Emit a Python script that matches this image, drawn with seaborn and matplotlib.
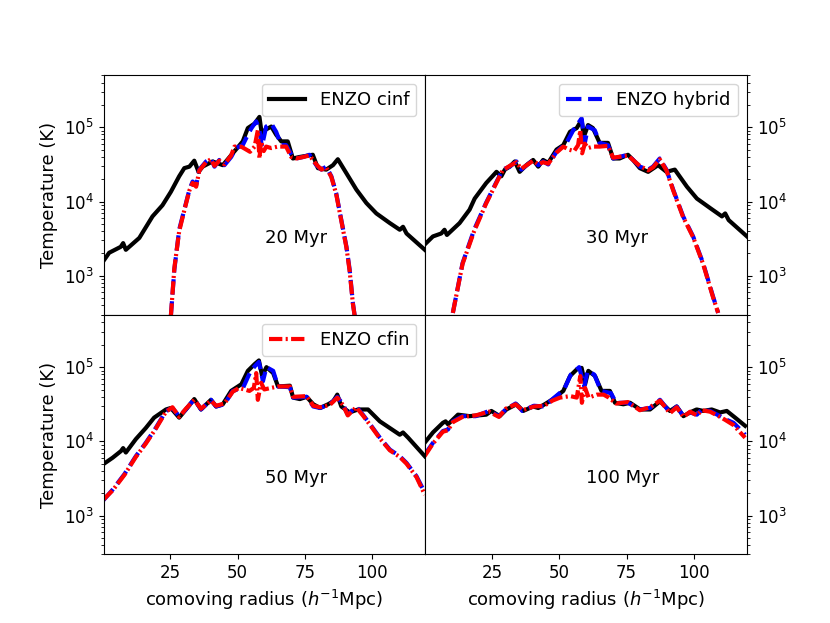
import numpy as np
import pandas as pd
import seaborn as sns
import matplotlib.pyplot as plt

# Values, stored as log10(T / K)

# 20 Myr
x_cinf_20 = [0, 2.3, 6.6, 7.5, 8.5, 13.5, 18.4, 22.1, 25.2, 28.3, 30.2, 32.1, 33.9, 35.5, 37.0, 40.7,
             44.5, 48.2, 51.9, 53.8, 56.3, 58.1, 59.0, 60.0, 62.5, 64.3, 66.2, 68.6, 70.5, 73.0, 77.9,
             79.8, 82.9, 85.4, 87.2, 90.4, 94.1, 97.8, 101.5, 106.5, 110.2, 111.4, 112.7, 119.5]
logT_cinf_20 = [3.19, 3.31, 3.39, 3.44, 3.35, 3.51, 3.80, 3.95, 4.13, 4.34, 4.45, 4.47, 4.55, 4.40, 4.47, 4.54,
                4.49, 4.65, 4.81, 4.99, 5.05, 5.14, 4.90, 4.96, 5.01, 4.90, 4.81, 4.81, 4.58, 4.60, 4.63,
                4.45, 4.43, 4.49, 4.57, 4.38, 4.16, 3.98, 3.84, 3.71, 3.62, 3.66, 3.57, 3.35]
x_hyb_20 = [25.2, 26.5, 28.3, 30.2, 32.1, 33.3, 34.6, 35.8, 38.3, 40.1, 41.4, 43.2, 45.1, 47.6, 49.4, 51.9,
            53.8, 55.0, 56.9, 58.1, 59.0, 60.6, 62.5, 64.3, 66.2, 68.0, 70.0, 71.8, 74.3, 76.7, 79.2, 81.1,
            82.9, 84.8, 86.6, 88.5, 90.4, 91.6, 92.8, 93.5]
logT_hyb_20 = [2.45, 3.08, 3.62, 3.89, 4.16, 4.27, 4.22, 4.43, 4.54, 4.58, 4.47, 4.56, 4.49, 4.60, 4.72, 4.76,
               4.90, 4.98, 5.08, 4.96, 4.74, 5.01, 5.05, 4.94, 4.76, 4.76, 4.63, 4.58, 4.60, 4.63, 4.49, 4.43,
               4.47, 4.34, 4.11, 3.75, 3.39, 3.08, 2.63, 2.45]
x_cfin_20 = [25.2, 26.5, 28.3, 30.2, 32.1, 33.3, 34.6, 35.8, 38.3, 40.1, 41.4, 43.2, 45.1, 47.6, 48.8, 51.3,
             53.2, 54.6, 56.3, 56.9, 57.5, 58.1, 58.7, 59.7, 60.6, 62.5, 64.9, 68.0, 69.9, 71.8, 74.3, 76.7,
             79.2, 81.1, 82.9, 84.8, 86.6, 88.5, 90.4, 91.6, 92.8, 93.5]
logT_cfin_20 = [2.45, 3.10, 3.60, 3.88, 4.15, 4.25, 4.20, 4.42, 4.53, 4.57, 4.48, 4.55, 4.50, 4.62, 4.74, 4.74,
                4.70, 4.67, 4.74, 4.85, 4.96, 4.58, 4.81, 4.68, 4.74, 4.72, 4.74, 4.74, 4.60, 4.58, 4.60, 4.62,
                4.50, 4.43, 4.46, 4.33, 4.10, 3.74, 3.38, 3.06, 2.62, 2.45]

# 30 Myr
x_cinf_30 = [0, 3.1, 6.2, 7.4, 8.3, 13.0, 16.7, 18.6, 22.9, 26.7, 28.5, 29.8, 31.6, 33.5, 35.3, 37.8, 40.3,
             42.2, 44.0, 45.9, 49.0, 51.5, 54.0, 56.5, 58.3, 59.1, 60.7, 62.5, 65.0, 68.1, 70.0, 72.4, 75.5,
             77.4, 79.9, 83.0, 86.7, 89.8, 92.9, 97.4, 101.1, 106.1, 110.4, 111.6, 112.9, 119.7]
logT_cinf_30 = [3.42, 3.53, 3.57, 3.62, 3.55, 3.71, 3.89, 4.04, 4.25, 4.40, 4.34, 4.43, 4.47, 4.54, 4.40, 4.49, 4.56,
                4.47, 4.56, 4.52, 4.70, 4.76, 4.94, 4.99, 5.10, 4.87, 5.03, 4.99, 4.79, 4.79, 4.58, 4.58, 4.63,
                4.56, 4.45, 4.40, 4.49, 4.40, 4.43, 4.20, 4.04, 3.91, 3.80, 3.84, 3.75, 3.53]
x_hyb_30 = [10.5, 14.1, 18.4, 22.8, 26.5, 29.0, 31.6, 34.1, 35.9, 40.3, 42.2, 44.0, 45.9, 49.0, 52.7, 55.2,
            58.3, 59.5, 60.7, 63.2, 65.0, 68.1, 70.0, 75.5, 79.9, 83.0, 84.8, 87.3, 89.8, 92.3, 96.0, 99.7,
            103.4, 107.1, 109.0]
logT_hyb_30 = [2.50, 3.17, 3.62, 3.98, 4.25, 4.43, 4.47, 4.54, 4.43, 4.56, 4.49, 4.54, 4.50, 4.67, 4.79, 4.96,
               5.12, 4.79, 5.01, 4.96, 4.79, 4.76, 4.58, 4.63, 4.47, 4.43, 4.47, 4.58, 4.43, 4.16, 3.80, 3.53,
               3.17, 2.72, 2.50]
x_cfin_30 = [10.5, 14.1, 18.4, 22.8, 26.5, 29.0, 31.6, 34.1, 35.9, 40.3, 42.2, 44.0, 45.9, 49.0, 51.5, 53.5,
             55.5, 57.0, 57.8, 58.5, 59.5, 60.7, 62.5, 65.0, 68.1, 70.0, 75.5, 79.9, 83.0, 84.8, 87.3, 89.8,
             92.3, 96.0, 99.7, 103.4, 107.1, 109.0]
logT_cfin_30 = [2.50, 3.16, 3.60, 3.97, 4.24, 4.42, 4.48, 4.53, 4.44, 4.55, 4.50, 4.53, 4.51, 4.66, 4.74, 4.70,
                4.68, 4.76, 4.96, 4.65, 4.78, 4.72, 4.74, 4.74, 4.75, 4.59, 4.62, 4.48, 4.42, 4.46, 4.57, 4.42,
                4.15, 3.79, 3.52, 3.16, 2.71, 2.50]

# 50 Myr
x_cinf_50 = [0, 3.6, 6.7, 7.5, 8.5, 12.2, 15.9, 19.0, 23.4, 25.2, 28.3, 30.8, 33.9, 36.4, 40.1, 42.0, 44.5,
             47.6, 51.4, 53.8, 56.3, 57.9, 59.1, 60.7, 63.2, 65.0, 69.4, 70.6, 73.1, 75.6, 78.1, 80.6, 83.6,
             85.5, 87.0, 88.5, 91.6, 94.7, 98.4, 102.8, 106.5, 110.2, 111.4, 113.3, 119.5]
logT_cinf_50 = [3.69, 3.78, 3.87, 3.91, 3.85, 4.03, 4.18, 4.32, 4.43, 4.45, 4.32, 4.43, 4.57, 4.43, 4.56, 4.47, 4.50,
                4.68, 4.77, 4.95, 5.04, 5.09, 4.88, 5.00, 4.92, 4.74, 4.75, 4.59, 4.57, 4.60, 4.50, 4.45, 4.50,
                4.54, 4.63, 4.47, 4.39, 4.43, 4.43, 4.27, 4.18, 4.09, 4.12, 4.05, 3.80]
x_hyb_50 = [0, 3.6, 8.0, 12.2, 15.9, 19.6, 23.4, 25.8, 28.3, 30.8, 33.9, 36.4, 40.1, 42.0, 45.1, 48.2, 52.0,
            54.5, 56.3, 57.9, 59.4, 60.7, 63.2, 65.0, 69.4, 70.6, 75.6, 78.1, 80.6, 84.2, 87.0, 89.1, 90.9,
            94.0, 96.5, 99.6, 102.8, 106.5, 110.2, 112.7, 116.4, 119.5]
logT_hyb_50 = [3.20, 3.35, 3.56, 3.80, 3.98, 4.18, 4.41, 4.45, 4.34, 4.43, 4.57, 4.43, 4.56, 4.47, 4.50, 4.68, 4.72,
               4.92, 5.01, 5.07, 4.81, 5.00, 4.95, 4.74, 4.73, 4.59, 4.60, 4.47, 4.45, 4.50, 4.60, 4.50, 4.36,
               4.47, 4.36, 4.21, 4.05, 3.89, 3.80, 3.71, 3.53, 3.31]
x_cfin_50 = [0, 3.6, 8.0, 12.2, 15.9, 19.6, 23.4, 25.8, 28.3, 30.8, 33.9, 36.4, 40.1, 42.0, 45.1, 48.2, 50.5,
             52.5, 54.4, 56.0, 56.9, 57.5, 58.7, 59.9, 62.4, 65.0, 69.4, 70.6, 75.6, 78.1, 80.6, 84.2, 87.0,
             89.1, 90.9, 94.0, 96.5, 99.6, 102.8, 106.5, 110.2, 112.7, 116.4, 119.5]
logT_cfin_50 = [3.21, 3.34, 3.55, 3.79, 3.97, 4.17, 4.40, 4.46, 4.33, 4.44, 4.56, 4.44, 4.55, 4.48, 4.51, 4.67, 4.72,
                4.70, 4.68, 4.72, 4.92, 4.56, 4.79, 4.70, 4.72, 4.74, 4.74, 4.60, 4.61, 4.48, 4.46, 4.49, 4.59,
                4.49, 4.35, 4.46, 4.35, 4.20, 4.04, 3.88, 3.79, 3.70, 3.52, 3.28]

# 100 Myr
x_cinf_100 = [0, 3.1, 6.8, 7.8, 8.7, 12.4, 16.7, 22.9, 24.8, 27.9, 30.4, 34.1, 36.6, 40.3, 42.2, 44.6, 47.7,
              51.5, 54.0, 56.5, 58.3, 59.6, 60.8, 63.3, 65.7, 68.8, 70.7, 73.8, 76.3, 80.0, 83.7, 87.4, 91.1,
              93.6, 96.1, 98.5, 101.0, 103.5, 106.6, 109.7, 112.2, 115.3, 119.0]
logT_cinf_100 = [3.98, 4.12, 4.25, 4.27, 4.23, 4.36, 4.34, 4.36, 4.41, 4.34, 4.43, 4.50, 4.41, 4.47, 4.45, 4.50, 4.57,
                 4.68, 4.88, 4.97, 4.99, 4.77, 4.95, 4.88, 4.68, 4.68, 4.52, 4.50, 4.52, 4.43, 4.43, 4.54, 4.41,
                 4.47, 4.34, 4.39, 4.43, 4.41, 4.43, 4.39, 4.41, 4.32, 4.21]
x_hyb_100 = [0, 3.1, 6.8, 8.7, 10.5, 14.1, 19.0, 23.9, 27.6, 30.1, 33.8, 36.3, 40.6, 44.4, 47.5, 51.8, 54.3,
             57.4, 59.3, 60.5, 63.0, 65.5, 69.2, 71.1, 75.5, 79.9, 83.7, 87.4, 91.1, 93.6, 96.1, 98.6, 101.1,
             102.9, 106.0, 109.7, 111.6, 114.7, 117.2, 119.0]
logT_hyb_100 = [3.82, 3.98, 4.14, 4.16, 4.27, 4.34, 4.34, 4.41, 4.34, 4.43, 4.51, 4.41, 4.48, 4.47, 4.57, 4.70, 4.90,
                5.00, 4.74, 4.95, 4.90, 4.68, 4.65, 4.52, 4.52, 4.43, 4.45, 4.56, 4.39, 4.47, 4.34, 4.39, 4.36,
                4.43, 4.41, 4.34, 4.30, 4.25, 4.16, 4.09]
x_cfin_100 = [0, 3.1, 6.8, 8.7, 10.5, 14.1, 19.0, 23.9, 27.6, 30.1, 33.8, 36.3, 40.6, 44.4, 47.5, 50.3, 54.1,
              56.5, 57.8, 58.4, 59.6, 60.9, 64.0, 66.5, 68.4, 71.1, 75.5, 79.9, 83.7, 87.4, 91.1, 93.6, 96.1,
              98.6, 101.1, 102.9, 106.0, 109.7, 111.6, 114.7, 117.2, 119.0]
logT_cfin_100 = [3.80, 3.97, 4.13, 4.15, 4.26, 4.33, 4.35, 4.40, 4.33, 4.44, 4.50, 4.42, 4.47, 4.48, 4.55, 4.59, 4.61,
                 4.59, 4.88, 4.52, 4.72, 4.59, 4.63, 4.63, 4.59, 4.51, 4.53, 4.42, 4.46, 4.55, 4.38, 4.46, 4.33,
                 4.40, 4.35, 4.42, 4.40, 4.33, 4.29, 4.22, 4.12, 4.05]

times = ['20 Myr', '30 Myr', '50 Myr', '100 Myr']
legend_in_panel = ['ENZO cinf', 'ENZO hybrid', 'ENZO cfin', None]

plt.rcParams['font.size'] = 13
plt.rcParams['xtick.labelsize'] = 12
plt.rcParams['ytick.labelsize'] = 12

fig, axes = plt.subplots(2, 2, figsize=(8.3, 6.23), dpi=100, sharex=True, sharey=True)
plt.subplots_adjust(wspace=0, hspace=0)

panels = [
    (x_cinf_20, logT_cinf_20, x_hyb_20, logT_hyb_20, x_cfin_20, logT_cfin_20),
    (x_cinf_30, logT_cinf_30, x_hyb_30, logT_hyb_30, x_cfin_30, logT_cfin_30),
    (x_cinf_50, logT_cinf_50, x_hyb_50, logT_hyb_50, x_cfin_50, logT_cfin_50),
    (x_cinf_100, logT_cinf_100, x_hyb_100, logT_hyb_100, x_cfin_100, logT_cfin_100),
]

# dash-dot with a short dash, as in the reference
styles = [('ENZO cinf', 'black', '-'),
          ('ENZO hybrid', 'blue', '--'),
          ('ENZO cfin', 'red', (0, (3.2, 0.8, 0.5, 0.8)))]

for i, ax in enumerate(axes.flat):
    d = panels[i]
    for k, (name, col, ls) in enumerate(styles):
        xs = d[2 * k]
        ts = 10 ** np.array(d[2 * k + 1])
        lab = name if legend_in_panel[i] == name else '_nolegend_'
        sns.lineplot(x=xs, y=ts, ax=ax, color=col, lw=3,
                     estimator=None, sort=False, label=lab)
        ax.lines[-1].set_linestyle(ls)
    ax.set_yscale('log')
    ax.set_ylim(300, 5.1e5)
    ax.set_xlim(0.3, 119.7)
    ax.text(0.5, 0.3, times[i], transform=ax.transAxes, fontsize=13)
    ax.set_ylabel('Temperature (K)')
    if legend_in_panel[i] is not None:
        ax.legend(loc='upper right', fontsize=13)
    elif ax.get_legend() is not None:
        ax.get_legend().remove()

    if i % 2 == 1:
        ax.yaxis.set_label_position('right')
        ax.tick_params(axis='y', which='both', left=False, right=True,
                       labelleft=False, labelright=True)
    if i < 2:
        ax.tick_params(axis='x', which='both', bottom=False, labelbottom=False)
        ax.set_xlabel('')
    else:
        ax.set_xlabel('comoving radius ($h^{-1}$Mpc)')

axes[1, 0].set_xticks([25, 50, 75, 100])

plt.savefig('out.png', dpi=100)
